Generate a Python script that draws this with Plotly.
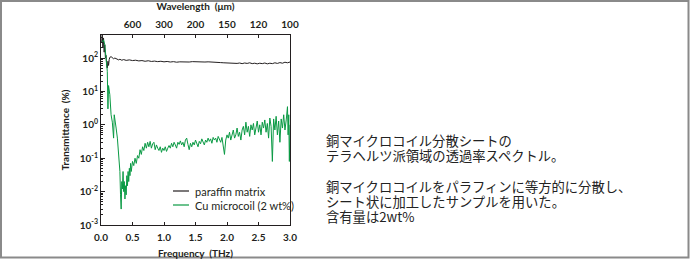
import plotly.graph_objects as go

# ---------------- data ----------------
freq_paraffin = [0.01, 0.02, 0.03, 0.04, 0.05, 0.06, 0.07, 0.08, 0.09, 0.10,
                 0.11, 0.12, 0.13, 0.14, 0.16, 0.18, 0.20, 0.22, 0.25, 0.28,
                 0.30, 0.33, 0.36, 0.40, 0.45, 0.50, 0.55, 0.60, 0.65, 0.70,
                 0.75, 0.80, 0.85, 0.90, 0.95, 1.00, 1.05, 1.10, 1.15, 1.20,
                 1.25, 1.30, 1.35, 1.40, 1.45, 1.50, 1.55, 1.60, 1.65, 1.70,
                 1.75, 1.80, 1.85, 1.90, 1.95, 2.00, 2.04, 2.08, 2.12, 2.16,
                 2.20, 2.24, 2.28, 2.32, 2.36, 2.40, 2.44, 2.48, 2.52, 2.56,
                 2.60, 2.64, 2.68, 2.72, 2.76, 2.80, 2.84, 2.88, 2.92, 2.96, 3.00]
trans_paraffin = [300, 500, 200, 400, 150, 250, 100, 120, 60, 50,
                  80, 60, 90, 105, 110, 102, 95, 100, 92, 88,
                  92, 86, 90, 85, 88, 84, 86, 82, 84, 80,
                  83, 79, 81, 78, 80, 77, 79, 76, 78, 75,
                  77, 76, 78, 76, 78, 77, 79, 78, 76, 77,
                  75, 76, 74, 73, 72, 71, 73, 70, 72, 69,
                  71, 68, 71, 69, 72, 68, 70, 67, 70, 68,
                  71, 67, 70, 68, 72, 69, 73, 70, 75, 72, 76]

freq_cu = [0.02, 0.04, 0.06, 0.08, 0.10, 0.11, 0.12, 0.14, 0.16, 0.18,
           0.20, 0.21, 0.22, 0.24, 0.26, 0.28, 0.30, 0.31, 0.32, 0.33,
           0.34, 0.35, 0.36, 0.37, 0.38, 0.39, 0.40, 0.41, 0.42, 0.43,
           0.44, 0.45, 0.46, 0.47, 0.48, 0.50, 0.52, 0.54, 0.56, 0.58,
           0.60, 0.62, 0.64, 0.66, 0.68, 0.70, 0.72, 0.74, 0.76, 0.78,
           0.80, 0.82, 0.84, 0.86, 0.88, 0.90, 0.92, 0.94, 0.96, 0.98,
           1.00, 1.02, 1.04, 1.06, 1.08, 1.10, 1.12, 1.14, 1.16, 1.18,
           1.20, 1.22, 1.24, 1.26, 1.28, 1.30, 1.32, 1.34, 1.36, 1.38,
           1.40, 1.42, 1.44, 1.46, 1.48, 1.50, 1.52, 1.54, 1.56, 1.58,
           1.60, 1.62, 1.64, 1.66, 1.68, 1.70, 1.72, 1.74, 1.76, 1.78,
           1.80, 1.82, 1.84, 1.86, 1.88, 1.90, 1.92, 1.94, 1.96, 1.98,
           2.00, 2.02, 2.04, 2.06, 2.08, 2.10, 2.12, 2.14, 2.16, 2.18,
           2.20, 2.22, 2.24, 2.26, 2.28, 2.30, 2.32, 2.34, 2.36, 2.38,
           2.40, 2.42, 2.44, 2.46, 2.48, 2.50, 2.52, 2.54, 2.56, 2.58,
           2.60, 2.62, 2.64, 2.66, 2.68, 2.70, 2.72, 2.74, 2.76, 2.78,
           2.80, 2.82, 2.84, 2.86, 2.88, 2.90, 2.92, 2.94, 2.96, 2.97,
           2.98, 2.99, 3.00]
trans_cu = [300, 350, 250, 120, 40, 3, 15, 8, 2, 1.2,
            0.4, 2.0, 1.6, 0.8, 0.4, 0.15, 0.04, 0.008, 0.003, 0.02,
            0.012, 0.04, 0.01, 0.02, 0.006, 0.015, 0.008, 0.03, 0.015, 0.04,
            0.02, 0.05, 0.03, 0.07, 0.04, 0.08, 0.06, 0.1, 0.07, 0.12,
            0.1, 0.18, 0.13, 0.22, 0.17, 0.28, 0.2, 0.3, 0.22, 0.32,
            0.2, 0.27, 0.3, 0.18, 0.25, 0.2, 0.17, 0.22, 0.15, 0.2,
            0.17, 0.22, 0.16, 0.2, 0.24, 0.2, 0.28, 0.22, 0.3, 0.25,
            0.2, 0.3, 0.26, 0.33, 0.25, 0.3, 0.22, 0.35, 0.4, 0.26,
            0.18, 0.28, 0.22, 0.3, 0.25, 0.35, 0.28, 0.22, 0.32, 0.27,
            0.38, 0.3, 0.25, 0.35, 0.3, 0.4, 0.32, 0.38, 0.28, 0.42,
            0.35, 0.4, 0.3, 0.45, 0.35, 0.3, 0.42, 0.2, 0.13, 0.35,
            0.5, 0.4, 0.6, 0.35, 0.55, 0.7, 0.4, 0.5, 0.8, 0.45,
            0.6, 0.35, 0.7, 0.9, 0.5, 1.2, 0.6, 0.9, 0.45, 1.0,
            0.7, 1.1, 0.5, 0.9, 1.3, 0.6, 1.0, 0.5, 1.2, 0.8,
            1.4, 0.6, 1.1, 0.4, 1.6, 0.9, 0.08, 1.5, 0.7, 1.8,
            0.5, 1.3, 0.3, 1.5, 0.8, 2.0, 0.7, 1.4, 3.5, 0.5,
            2.0, 0.08, 1.0]

freq_ticks = [0.0, 0.5, 1.0, 1.5, 2.0, 2.5, 3.0]
freq_ticklabels = ["0.0", "0.5", "1.0", "1.5", "2.0", "2.5", "3.0"]
wl_tick_freqs = [0.5, 1.0, 1.5, 2.0, 2.5, 3.0]
wl_ticklabels = ["600", "300", "200", "150", "120", "100"]
y_ticks = [0.001, 0.01, 0.1, 1, 10, 100]
y_ticklabels = ["10<sup>-3</sup>", "10<sup>-2</sup>", "10<sup>-1</sup>",
                "10<sup>0</sup>", "10<sup>1</sup>", "10<sup>2</sup>"]
series_names = ["paraffin matrix", "Cu microcoil (2 wt%)"]
jp_lines = ["銅マイクロコイル分散シートの",
            "テラヘルツ派領域の透過率スペクトル。",
            "銅マイクロコイルをパラフィンに等方的に分散し、",
            "シート状に加工したサンプルを用いた。",
            "含有量は2wt%"]

# ---------------- style ----------------
BLACK = "#231f20"
GREEN = "#0a9a44"
FONT = "Lato"
W, H = 690, 259
L, R, T, B = 101, 290, 35, 225   # plot area in px


def px_x(px):
    return (px - L) / (R - L)


def px_y(py):
    return (B - py) / (B - T)


minor_vals = [m * 10 ** k for k in range(-3, 3) for m in range(2, 10)]

fig = go.Figure()
fig.add_trace(go.Scatter(x=freq_paraffin, y=trans_paraffin, mode="lines",
                         line=dict(color=BLACK, width=1), name=series_names[0],
                         showlegend=False))
fig.add_trace(go.Scatter(x=freq_cu, y=trans_cu, mode="lines",
                         line=dict(color=GREEN, width=1), name=series_names[1],
                         showlegend=False))
# helper (empty) traces so that the overlaid axes are drawn
for ax in ["x2", "x3", "x4"]:
    fig.add_trace(go.Scatter(x=[None], y=[None], xaxis=ax, mode="lines",
                             showlegend=False, hoverinfo="skip"))

axis_font = dict(family=FONT, size=10, color=BLACK)
title_font = dict(family=FONT, size=10, color=BLACK)
CLEAR = "rgba(0,0,0,0)"
fig.update_layout(
    width=W, height=H,
    margin=dict(l=L, r=W - R, t=T, b=H - B, pad=0, autoexpand=False),
    paper_bgcolor="white", plot_bgcolor="white",
    font=dict(family=FONT, color=BLACK),
    # labelled bottom axis (transparent outside ticks only push the labels away)
    xaxis=dict(range=[0, 3], tickvals=freq_ticks, ticktext=[f"<b>{t}</b>" for t in freq_ticklabels],
               ticks="outside", ticklen=3, tickcolor=CLEAR, showline=True, linecolor=BLACK,
               linewidth=1, showgrid=False, zeroline=False, tickfont=axis_font, automargin=False,
               title=dict(text="<b>Frequency  (THz)</b>", font=title_font, standoff=12)),
    # labelled top axis
    xaxis2=dict(range=[0, 3], overlaying="x", side="top", tickvals=wl_tick_freqs,
                ticktext=[f"<b>{t}</b>" for t in wl_ticklabels], ticks="outside", ticklen=2,
                tickcolor=CLEAR, showline=True, linecolor=BLACK, linewidth=1, showgrid=False,
                zeroline=False, tickfont=axis_font, automargin=False,
                title=dict(text="<b>Wavelength  (μm)</b>", font=title_font, standoff=6)),
    # visible inside tick marks, bottom and top
    xaxis3=dict(range=[0, 3], overlaying="x", side="bottom", tickvals=freq_ticks,
                ticks="inside", ticklen=3, tickcolor=BLACK, showticklabels=False,
                showline=False, showgrid=False, zeroline=False, automargin=False),
    xaxis4=dict(range=[0, 3], overlaying="x", side="top", tickvals=wl_tick_freqs,
                ticks="inside", ticklen=3, tickcolor=BLACK, showticklabels=False,
                showline=False, showgrid=False, zeroline=False, automargin=False),
    yaxis=dict(type="log", range=[-3, 2.69], tickvals=y_ticks,
               ticktext=[f"<b>{t}</b>" for t in y_ticklabels], ticks="inside", ticklen=4,
               tickcolor=BLACK, showline=True, linecolor=BLACK, linewidth=1, mirror=True,
               showgrid=False, zeroline=False, tickfont=axis_font, automargin=False,
               minor=dict(ticks="inside", ticklen=2, tickcolor=BLACK, tickvals=minor_vals,
                          showgrid=False),
               title=dict(text="<b>Transmittance  (%)</b>", font=title_font, standoff=8)),
)

shapes = []
annotations = []
# legend (drawn manually to match the short legend lines)
leg_rows = [(191, BLACK), (205, GREEN)]
for (py, col), name in zip(leg_rows, series_names):
    shapes.append(dict(type="line", xref="paper", yref="paper",
                       x0=px_x(173), x1=px_x(189), y0=px_y(py), y1=px_y(py),
                       line=dict(color=col, width=1.2)))
    annotations.append(dict(text=name, xref="paper", yref="paper", x=px_x(193), y=px_y(py),
                            xanchor="left", yanchor="middle", showarrow=False,
                            font=dict(family=FONT, size=11, color=BLACK)))

# Japanese caption
jp_y = [140, 155, 186.5, 201.5, 216.5]
for line, py in zip(jp_lines, jp_y):
    annotations.append(dict(text=line, xref="paper", yref="paper", x=px_x(324), y=px_y(py),
                            xanchor="left", yanchor="middle", showarrow=False,
                            font=dict(family="Noto Sans CJK JP", size=13.3, color="#222222")))

# outer grey frame
shapes.append(dict(type="rect", xref="paper", yref="paper", layer="above",
                   x0=px_x(1), x1=px_x(688.5), y0=px_y(1), y1=px_y(257.5),
                   line=dict(color="#8a8a8a", width=2), fillcolor="rgba(0,0,0,0)"))

fig.update_layout(shapes=shapes, annotations=annotations)
fig.write_html("out.html")
